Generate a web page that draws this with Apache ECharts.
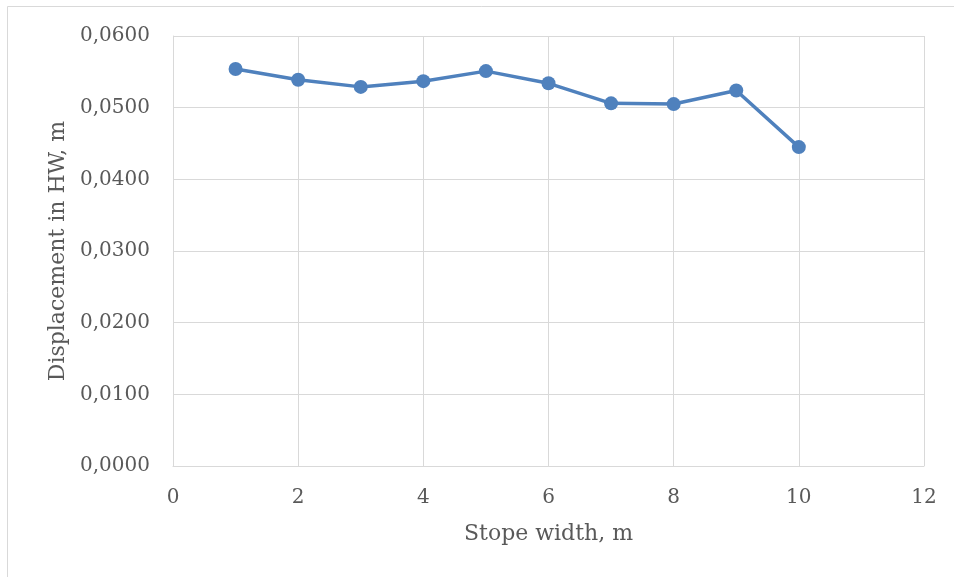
<!DOCTYPE html>
<html>
<head>
<meta charset="utf-8">
<script src="https://cdn.jsdelivr.net/npm/echarts@6/dist/echarts.min.js"></script>
<style>
  html, body { margin: 0; padding: 0; background: #fff; }
  #chart { width: 954px; height: 577px; }
</style>
</head>
<body>
<div id="chart"></div>
<script>
// Stope width (m) versus hanging-wall displacement (m)
const stopeWidths = [1, 2, 3, 4, 5, 6, 7, 8, 9, 10];
const displacementHW = [0.0554, 0.0539, 0.0529, 0.0537, 0.0551, 0.0534, 0.0506, 0.0505, 0.0524, 0.0445];

const xAxisTitle = 'Stope width, m';
const yAxisTitle = 'Displacement in HW, m';

const textColor = '#595959';
const gridColor = '#d9d9d9';
const fontFamily = '"DejaVu Serif", "Liberation Serif", serif';

const chart = echarts.init(document.getElementById('chart'), null, { renderer: 'canvas' });

chart.setOption({
  backgroundColor: '#ffffff',
  animation: false,
  textStyle: { fontFamily: fontFamily, color: textColor },
  graphic: [{
    type: 'rect',
    shape: { x: 7.5, y: 6.5, width: 960, height: 600 },
    style: { fill: 'none', stroke: gridColor, lineWidth: 1 },
    silent: true
  }],
  grid: { left: 173, right: 30, top: 36, bottom: 111, containLabel: false },
  xAxis: {
    type: 'value',
    min: 0,
    max: 12,
    interval: 2,
    name: xAxisTitle,
    nameLocation: 'middle',
    nameGap: 57,
    nameTextStyle: { fontSize: 22, color: textColor, fontFamily: fontFamily },
    axisLine: { show: true, lineStyle: { color: gridColor, width: 1 } },
    axisTick: { show: false },
    axisLabel: { fontSize: 20, color: textColor, margin: 22, fontFamily: fontFamily },
    splitLine: { show: true, lineStyle: { color: gridColor, width: 1 } }
  },
  yAxis: {
    type: 'value',
    min: 0,
    max: 0.06,
    interval: 0.01,
    name: yAxisTitle,
    nameLocation: 'middle',
    nameGap: 101,
    nameTextStyle: { fontSize: 22, color: textColor, fontFamily: fontFamily },
    axisLine: { show: true, lineStyle: { color: gridColor, width: 1 } },
    axisTick: { show: false },
    axisLabel: {
      fontSize: 20,
      color: textColor,
      margin: 23,
      fontFamily: fontFamily,
      formatter: v => v.toFixed(4).replace('.', ',')
    },
    splitLine: { show: true, lineStyle: { color: gridColor, width: 1 } }
  },
  series: [{
    type: 'line',
    data: stopeWidths.map((x, i) => [x, displacementHW[i]]),
    symbol: 'circle',
    symbolSize: 14,
    lineStyle: { color: '#4f81bd', width: 3.5 },
    itemStyle: { color: '#4f81bd' }
  }]
});
</script>
</body>
</html>
